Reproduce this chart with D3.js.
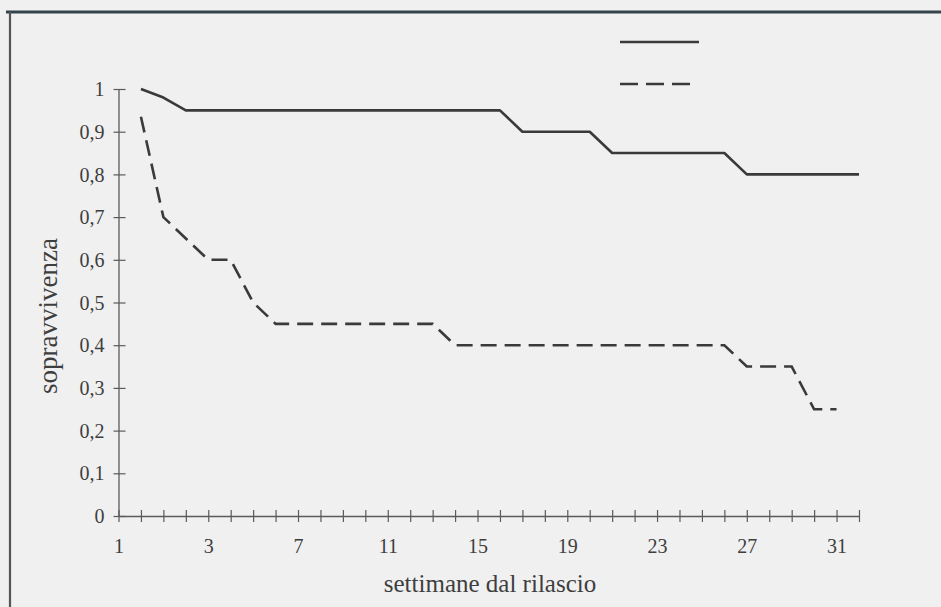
<!DOCTYPE html>
<html>
<head>
<meta charset="utf-8">
<script src="https://cdn.jsdelivr.net/npm/d3@7"></script>
<style>
  html, body { margin: 0; padding: 0; background: #f0f0f0; }
  svg { display: block; }
</style>
</head>
<body>
<svg id="chart" width="941" height="607"></svg>
<script>
// Categories (weeks from release), one per tick position on the category axis
const weeks = ["1","1,5","2","2,5","3","4","5","6","7","8","9","10","11","12","13","14","15","16",
               "17","18","19","20","21","22","23","24","25","26","27","28","29","30","31","32"];
// Tick labels shown on the x axis
const xTickLabels = ["1","3","7","11","15","19","23","27","31"];
// y tick values and labels
const yTicks = [0, 0.1, 0.2, 0.3, 0.4, 0.5, 0.6, 0.7, 0.8, 0.9, 1];
const yTickLabels = ["0","0,1","0,2","0,3","0,4","0,5","0,6","0,7","0,8","0,9","1"];
// Survival series (null = no value)
const seriesSolid = [null, 1.0, 0.98, 0.95, 0.95, 0.95, 0.95, 0.95, 0.95, 0.95, 0.95, 0.95, 0.95, 0.95, 0.95, 0.95, 0.95, 0.95,
                     0.90, 0.90, 0.90, 0.90, 0.85, 0.85, 0.85, 0.85, 0.85, 0.85, 0.80, 0.80, 0.80, 0.80, 0.80, 0.80];
const seriesDashed = [null, 0.935, 0.70, 0.65, 0.60, 0.60, 0.50, 0.45, 0.45, 0.45, 0.45, 0.45, 0.45, 0.45, 0.45, 0.40, 0.40, 0.40,
                      0.40, 0.40, 0.40, 0.40, 0.40, 0.40, 0.40, 0.40, 0.40, 0.40, 0.35, 0.35, 0.35, 0.25, 0.25, null];
const xTitle = "settimane dal rilascio";
const yTitle = "sopravvivenza";

const svg = d3.select("#chart");
const ink = "#3a3a3a";
const axisInk = "#5a5a5a";
const textInk = "#3e3e3e";
const font = "'Liberation Serif', 'Times New Roman', serif";

// Frame (scanned page box)
svg.append("line").attr("x1", 6).attr("x2", 941).attr("y1", 12).attr("y2", 12)
  .attr("stroke", "#34444c").attr("stroke-width", 3);
svg.append("line").attr("x1", 10).attr("x2", 10).attr("y1", 12).attr("y2", 607)
  .attr("stroke", "#555").attr("stroke-width", 2.2);

const x = d3.scalePoint().domain(weeks).range([118.5, 859]);
const y = d3.scaleLinear().domain([0, 1]).range([516, 89]);

// Y axis
const yAxis = d3.axisLeft(y).tickValues(yTicks)
  .tickFormat((d, i) => yTickLabels[i]).tickSizeInner(5).tickSizeOuter(0).tickPadding(9);
const gy = svg.append("g").attr("transform", `translate(${x(weeks[0])},0)`).call(yAxis);
gy.select(".domain").attr("stroke", axisInk).attr("stroke-width", 1.3);
gy.selectAll(".tick line").attr("stroke", axisInk).attr("stroke-width", 1.2).attr("x2", -5).attr("x1", 7);
gy.selectAll(".tick text").attr("font-family", font).attr("font-size", 20).attr("fill", textInk)
  .attr("x", -14).attr("dy", "0.33em");

// X axis
const xAxis = d3.axisBottom(x)
  .tickFormat((d, i) => (i % 4 === 0 ? xTickLabels[i / 4] : ""))
  .tickSizeInner(6).tickSizeOuter(0).tickPadding(12);
const gx = svg.append("g").attr("transform", `translate(0,${y(0)})`).call(xAxis);
gx.select(".domain").attr("stroke", axisInk).attr("stroke-width", 1.3);
gx.selectAll(".tick line").attr("stroke", axisInk).attr("stroke-width", 1.2).attr("y1", -6).attr("y2", 6);
gx.selectAll(".tick text").attr("font-family", font).attr("font-size", 20).attr("fill", textInk)
  .attr("y", 23).attr("dy", "0.71em");

// Titles
svg.append("text").attr("x", 490).attr("y", 592).attr("text-anchor", "middle")
  .attr("font-family", font).attr("font-size", 25).attr("fill", textInk).text(xTitle);
svg.append("text").attr("transform", "translate(57,316) rotate(-90)").attr("text-anchor", "middle")
  .attr("font-family", font).attr("font-size", 27).attr("fill", textInk).text(yTitle);

// Lines
const line = d3.line()
  .defined(d => d.v !== null)
  .x(d => x(d.w)).y(d => y(d.v));

svg.append("path")
  .datum(weeks.map((w, i) => ({ w, v: seriesSolid[i] })))
  .attr("d", line).attr("fill", "none").attr("stroke", ink).attr("stroke-width", 2.6)
  .attr("stroke-linejoin", "round");

svg.append("path")
  .datum(weeks.map((w, i) => ({ w, v: seriesDashed[i] })))
  .attr("d", line).attr("fill", "none").attr("stroke", ink).attr("stroke-width", 2.6)
  .attr("stroke-dasharray", "16,8");

// Legend (line samples only)
svg.append("line").attr("x1", 620).attr("x2", 699).attr("y1", 42).attr("y2", 42)
  .attr("stroke", ink).attr("stroke-width", 2.6);
svg.append("line").attr("x1", 620).attr("x2", 693).attr("y1", 84).attr("y2", 84)
  .attr("stroke", ink).attr("stroke-width", 2.6).attr("stroke-dasharray", "18,8");
</script>
</body>
</html>
